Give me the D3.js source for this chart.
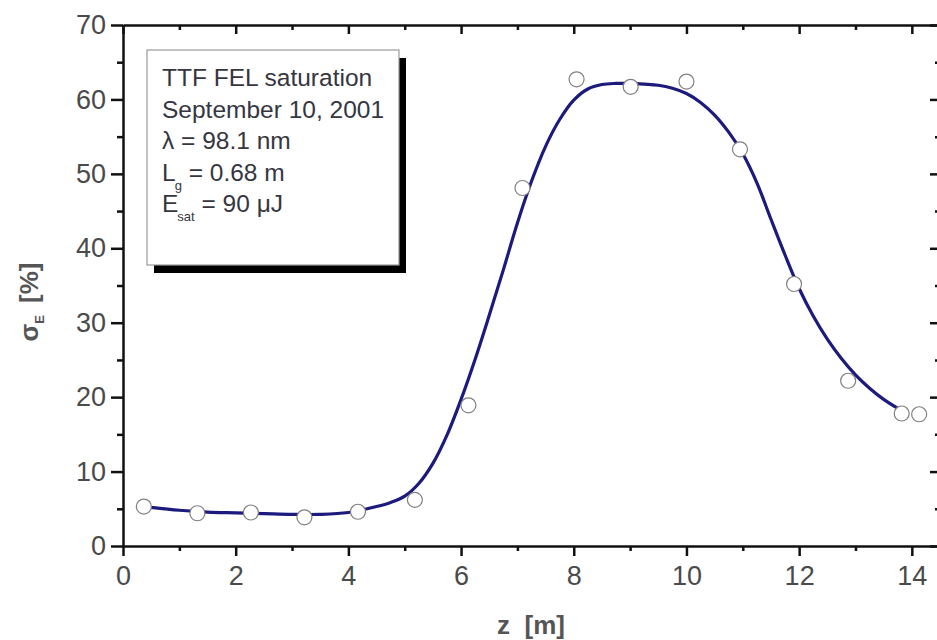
<!DOCTYPE html>
<html>
<head>
<meta charset="utf-8">
<script src="https://cdn.jsdelivr.net/npm/d3@7"></script>
<style>
  html, body { margin: 0; padding: 0; background: #fff; }
  svg { display: block; font-family: Arial, "Liberation Sans", sans-serif; }
</style>
</head>
<body>
<svg id="chart" width="937" height="640"></svg>
<script>
// measured points
const pointZ = [0.37, 1.32, 2.27, 3.22, 4.17, 5.18, 6.13, 7.09, 8.05, 9.01, 10.0, 10.95, 11.91, 12.87, 13.82, 14.13];
const pointSigma = [5.3, 4.4, 4.5, 3.85, 4.6, 6.2, 18.9, 48.1, 62.7, 61.7, 62.4, 53.3, 35.2, 22.2, 17.8, 17.7];
// fitted curve
const fitZ = [0.5, 1.0, 1.5, 2.0, 2.5, 3.0, 3.5, 4.0, 4.5, 4.75, 5.0, 5.25, 5.5, 5.75, 6.0, 6.25, 6.5, 6.75, 7.0, 7.25, 7.5, 7.75, 8.0, 8.25, 8.5, 8.75, 9.0, 9.25, 9.5, 9.75, 10.0, 10.25, 10.5, 10.75, 11.0, 11.25, 11.5, 11.75, 12.0, 12.25, 12.5, 12.75, 13.0, 13.25, 13.5, 13.75];
const fitSigma = [5.2, 4.8, 4.55, 4.45, 4.35, 4.25, 4.25, 4.5, 5.3, 5.85, 6.7, 8.4, 11.1, 14.9, 19.7, 25.1, 31.0, 37.1, 43.4, 49.0, 53.7, 57.3, 59.9, 61.4, 62.0, 62.15, 62.15, 62.05, 61.9, 61.5, 60.8, 59.6, 57.9, 55.6, 52.7, 48.8, 43.9, 39.1, 34.6, 30.9, 27.8, 25.2, 23.0, 21.2, 19.7, 18.5];
const xMajorTicks = [0, 2, 4, 6, 8, 10, 12, 14];
const xMinorTicks = [1, 3, 5, 7, 9, 11, 13];
const yMajorTicks = [0, 10, 20, 30, 40, 50, 60, 70];
const yMinorTicks = [5, 15, 25, 35, 45, 55, 65];
const infoLines = [
  ["TTF FEL saturation", ""],
  ["September 10, 2001", ""],
  ["\u03BB = 98.1 nm", ""],
  ["L", "g", " = 0.68 m"],
  ["E", "sat", " = 90 \u03BCJ"]
];

const svg = d3.select("#chart");
const L = 123, R = 940, T = 25, B = 546;
const x = d3.scaleLinear().domain([0, 14.5]).range([L, R]);
const y = d3.scaleLinear().domain([0, 70]).range([B, T]);

const labelColor = "#4a4a4a";

function styleAxis(g) {
  g.select(".domain").attr("stroke", "#111").attr("stroke-width", 2.5);
  g.selectAll(".tick line").attr("stroke", "#111").attr("stroke-width", 2.5);
}
function minor(g) {
  g.select(".domain").remove();
  g.selectAll(".tick line").attr("stroke", "#111").attr("stroke-width", 2.5);
}

// bottom
const xb = svg.append("g").attr("transform", `translate(0,${B})`)
  .call(d3.axisBottom(x).tickValues(xMajorTicks).tickSize(10).tickSizeOuter(0).tickPadding(10).tickFormat(d3.format("d")));
styleAxis(xb);
xb.selectAll("text").attr("font-size", 27).attr("fill", labelColor).attr("font-family", "Arial, 'Liberation Sans', sans-serif");
svg.append("g").attr("transform", `translate(0,${B})`)
  .call(d3.axisBottom(x).tickValues(xMinorTicks).tickSize(5).tickSizeOuter(0).tickFormat(""))
  .call(minor);

// top (mirror, inward ticks)
const xt = svg.append("g").attr("transform", `translate(0,${T})`)
  .call(d3.axisBottom(x).tickValues(xMajorTicks).tickSize(9).tickSizeOuter(0).tickFormat(""));
styleAxis(xt);
svg.append("g").attr("transform", `translate(0,${T})`)
  .call(d3.axisBottom(x).tickValues(xMinorTicks).tickSize(5).tickSizeOuter(0).tickFormat(""))
  .call(minor);

// left
const yl = svg.append("g").attr("transform", `translate(${L},0)`)
  .call(d3.axisLeft(y).tickValues(yMajorTicks).tickSize(12).tickSizeOuter(0).tickPadding(5).tickFormat(d3.format("d")));
styleAxis(yl);
yl.selectAll("text").attr("font-size", 27).attr("fill", labelColor).attr("font-family", "Arial, 'Liberation Sans', sans-serif");
svg.append("g").attr("transform", `translate(${L},0)`)
  .call(d3.axisLeft(y).tickValues(yMinorTicks).tickSize(6).tickSizeOuter(0).tickFormat(""))
  .call(minor);

// right (mirror, inward ticks)
const yr = svg.append("g").attr("transform", `translate(${R},0)`)
  .call(d3.axisRight(y).tickValues(yMajorTicks).tickSize(-10).tickSizeOuter(0).tickFormat(""));
styleAxis(yr);
svg.append("g").attr("transform", `translate(${R},0)`)
  .call(d3.axisRight(y).tickValues(yMinorTicks).tickSize(-5).tickSizeOuter(0).tickFormat(""))
  .call(minor);

// fit curve
const fitData = fitZ.map((z, i) => [z, fitSigma[i]]);
svg.append("path")
  .datum(fitData)
  .attr("fill", "none")
  .attr("stroke", "#1c1a7c")
  .attr("stroke-width", 3.2)
  .attr("stroke-linecap", "round")
  .attr("d", d3.line().x(d => x(d[0])).y(d => y(d[1])).curve(d3.curveCatmullRom.alpha(0.5)));

// points
svg.append("g").selectAll("circle")
  .data(pointZ.map((z, i) => [z, pointSigma[i]]))
  .join("circle")
  .attr("cx", d => x(d[0]))
  .attr("cy", d => y(d[1]))
  .attr("r", 7.5)
  .attr("fill", "#fff")
  .attr("stroke", "#808080")
  .attr("stroke-width", 1.2);

// info box with shadow
const bx = 147, by = 50, bw = 252, bh = 215;
svg.append("rect").attr("x", bx + 7).attr("y", by + 8).attr("width", bw).attr("height", bh).attr("fill", "#000");
svg.append("rect").attr("x", bx).attr("y", by).attr("width", bw).attr("height", bh)
  .attr("fill", "#fff").attr("stroke", "#9a9a9a").attr("stroke-width", 1.2);

const info = svg.append("g").attr("font-size", 24.5).attr("fill", "#363640");
infoLines.forEach((ln, i) => {
  const t = info.append("text").attr("x", 162).attr("y", 86 + i * 31.5);
  t.append("tspan").text(ln[0]);
  if (ln.length === 3) {
    t.append("tspan").attr("font-size", 13).attr("dy", 9).attr("dx", -1).text(ln[1]);
    t.append("tspan").attr("dy", -9).text(ln[2]);
  }
});

// axis titles
svg.append("text")
  .attr("x", 531).attr("y", 634)
  .attr("text-anchor", "middle")
  .attr("font-size", 26).attr("font-weight", "bold").attr("fill", "#555")
  .attr("xml:space", "preserve")
  .text("z  [m]");

const yt = svg.append("text")
  .attr("transform", "translate(38,302) rotate(-90)")
  .attr("text-anchor", "middle")
  .attr("font-size", 26).attr("font-weight", "bold").attr("fill", "#555");
yt.append("tspan").text("\u03C3");
yt.append("tspan").attr("font-size", 13).attr("dy", 6).text("E");
yt.append("tspan").attr("dy", -6).attr("dx", 12).text("[%]");
</script>
</body>
</html>
